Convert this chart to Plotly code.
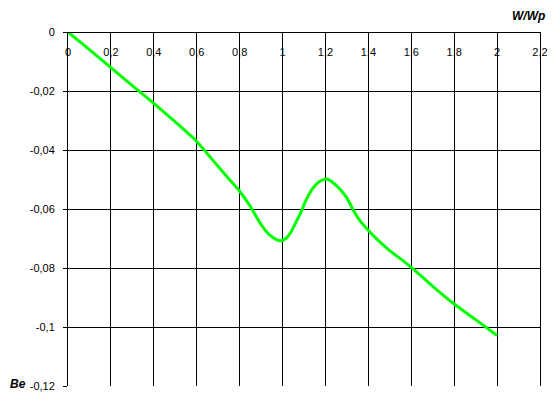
import plotly.graph_objects as go

# Curve data
w_wp = [0, 0.1, 0.2, 0.3, 0.4, 0.5, 0.6, 0.7, 0.75, 0.8, 0.847, 0.87, 0.893, 0.924,
        0.955, 0.989, 1.017, 1.04, 1.064, 1.087, 1.11, 1.141, 1.172, 1.206, 1.249,
        1.296, 1.327, 1.358, 1.397, 1.451, 1.498, 1.552, 1.6, 1.7, 1.8, 1.9, 2.0]
be = [0, -0.006, -0.0121, -0.0182, -0.0242, -0.0305, -0.0371, -0.0456, -0.0498, -0.054,
      -0.0588, -0.0616, -0.0645, -0.0676, -0.0697, -0.0708, -0.0699, -0.0677, -0.0643,
      -0.0609, -0.0569, -0.053, -0.0507, -0.0498, -0.0519, -0.0558, -0.060, -0.0637,
      -0.067, -0.071, -0.0740, -0.0770, -0.0798, -0.0862, -0.0922, -0.0975, -0.1029]

x_ticks = [0, 0.2, 0.4, 0.6, 0.8, 1.0, 1.2, 1.4, 1.6, 1.8, 2.0, 2.2]
x_tick_labels = ["0", "0,2", "0,4", "0,6", "0,8", "1", "1,2", "1,4", "1,6", "1,8", "2", "2,2"]
y_ticks = [0, -0.02, -0.04, -0.06, -0.08, -0.1, -0.12]
y_tick_labels = ["0", "-0,02", "-0,04", "-0,06", "-0,08", "-0,1", "-0,12"]

fig = go.Figure()
fig.add_trace(go.Scatter(
    x=w_wp, y=be, mode="lines",
    line=dict(color="#00ff00", width=3, shape="spline", smoothing=0.6),
    showlegend=False, hoverinfo="skip",
))

font = dict(family="Liberation Sans, Arial, sans-serif", size=11, color="#000000")
title_font = dict(family="Liberation Sans, Arial, sans-serif", size=12, color="#000000")

# The page body adds an 8px offset; margins are set so the plot area lands
# at x 68..540, y 32..386 in the browser window.
fig.update_layout(
    width=556, height=402,
    margin=dict(l=60, r=24, t=24, b=24),
    paper_bgcolor="white", plot_bgcolor="white",
    font=font,
    xaxis=dict(
        range=[0, 2.2], side="bottom", anchor="free", position=1,
        tickvals=x_ticks, ticktext=x_tick_labels, automargin=False,
        showgrid=True, gridcolor="#000000", gridwidth=1,
        showline=True, linecolor="#000000", linewidth=1,
        ticks="", zeroline=False, tickfont=font, ticklabelstandoff=10,
    ),
    yaxis=dict(
        range=[-0.12, 0], automargin=False,
        tickvals=y_ticks, ticktext=y_tick_labels,
        showgrid=True, gridcolor="#000000", gridwidth=1,
        showline=True, linecolor="#000000", linewidth=1, mirror=True,
        ticks="outside", ticklen=4, tickcolor="#000000",
        zeroline=False, tickfont=font, ticklabelstandoff=6,
    ),
    annotations=[
        dict(text="<b><i>W/Wp</i></b>", xref="paper", yref="paper",
             x=1.0148, y=1.045, xanchor="right", yanchor="middle",
             showarrow=False, font=title_font),
        dict(text="<b><i>Be</i></b>", xref="paper", yref="paper",
             x=-0.127, y=0.0056, xanchor="left", yanchor="middle",
             showarrow=False, font=title_font),
    ],
)

fig.write_html("out.html")
